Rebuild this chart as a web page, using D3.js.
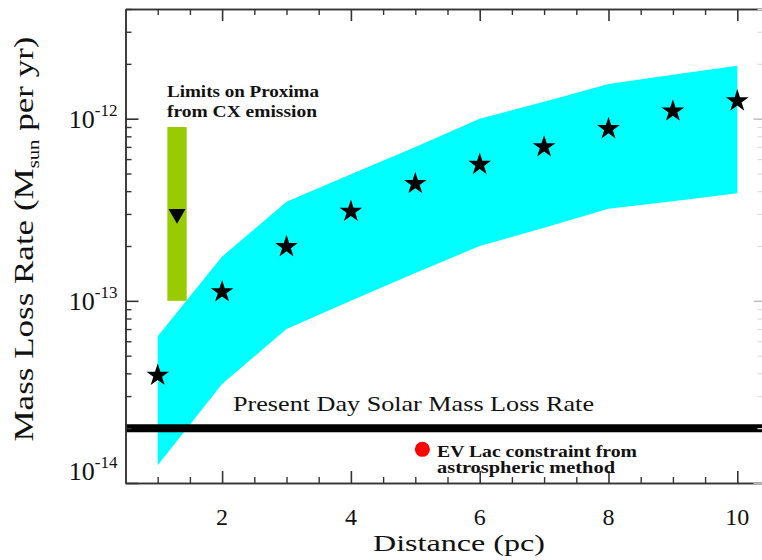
<!DOCTYPE html>
<html>
<head>
<meta charset="utf-8">
<script src="https://cdn.jsdelivr.net/npm/d3@7"></script>
<style>
  html, body { margin: 0; padding: 0; background: #fff; }
  svg { display: block; }
  text { font-family: "Liberation Serif", "DejaVu Serif", serif; fill: #111; }
</style>
</head>
<body>
<svg id="chart" width="762" height="560"></svg>
<script>
// ---- data ----
const distance   = [1, 2, 3, 4, 5, 6, 7, 8, 9, 10];
const modelRate  = [3.9e-14, 1.12e-13, 1.98e-13, 3.1e-13, 4.4e-13, 5.6e-13, 7.0e-13, 8.8e-13, 1.1e-12, 1.25e-12];
const rangeUpper = [6.4e-14, 1.75e-13, 3.5e-13, 4.95e-13, 7.0e-13, 1.0e-12, 1.24e-12, 1.55e-12, 1.74e-12, 1.95e-12];
const rangeLower = [1.25e-14, 3.5e-14, 7.0e-14, 1.0e-13, 1.42e-13, 2.0e-13, 2.52e-13, 3.2e-13, 3.52e-13, 3.9e-13];

const solarRate = 2.0e-14;
const proximaDistance = 1.30;
const proximaHalfWidth = 0.15;
const proximaLimits = [1.0e-13, 9.0e-13];
const proximaValue = 3.0e-13;
const evLacDistance = 5.11;
const evLacRate = 1.53e-14;

const xDomain = [0.5, 10.5];
const yDomain = [1e-14, 4e-12];
const xMajorTicks = [2, 4, 6, 8, 10];
const xMinorTicks = d3.range(1, 21).map(i => i * 0.5 + 0.5).filter(v => v < 10.5 && !xMajorTicks.includes(v));
const yMajorTicks = [1e-14, 1e-13, 1e-12];
const yTickExponents = ["-14", "-13", "-12"];
const yMinorTicks = [];
[-14, -13, -12].forEach(e => { for (let m = 2; m <= 9; m++) { const v = m * Math.pow(10, e); if (v <= 4e-12) yMinorTicks.push(v); } });

// ---- layout ----
const svg = d3.select("#chart");
const mLeft = 125.5, mRight = 769.5, mTop = 9, mBottom = 483;
const x = d3.scaleLinear().domain(xDomain).range([mLeft, mRight]);
const y = d3.scaleLog().domain(yDomain).range([mBottom, mTop]);

// model range band
const band = distance.map((d, i) => ({ d, lo: rangeLower[i], hi: rangeUpper[i] }));
svg.append("path")
  .datum(band)
  .attr("fill", "#00ffff")
  .attr("d", d3.area().x(p => x(p.d)).y0(p => y(p.lo)).y1(p => y(p.hi)));

// Proxima limits bar
svg.append("rect")
  .attr("x", x(proximaDistance - proximaHalfWidth))
  .attr("width", x(proximaDistance + proximaHalfWidth) - x(proximaDistance - proximaHalfWidth))
  .attr("y", y(proximaLimits[1]))
  .attr("height", y(proximaLimits[0]) - y(proximaLimits[1]))
  .attr("fill", "#99cc00");

svg.append("path")
  .attr("d", d3.symbol().type(d3.symbolTriangle).size(125)())
  .attr("transform", `translate(${x(proximaDistance)},${y(proximaValue)}) rotate(180)`)
  .attr("fill", "#000");

// stars
svg.append("g").selectAll("path")
  .data(distance)
  .join("path")
  .attr("d", d3.symbol().type(d3.symbolStar).size(160)())
  .attr("transform", (d, i) => `translate(${x(d)},${y(modelRate[i])})`)
  .attr("fill", "#000");

// solar line
svg.append("line")
  .attr("x1", x(xDomain[0])).attr("x2", x(xDomain[1]))
  .attr("y1", y(solarRate)).attr("y2", y(solarRate))
  .attr("stroke", "#000").attr("stroke-width", 8);

// EV Lac dot
svg.append("circle")
  .attr("cx", x(evLacDistance)).attr("cy", y(evLacRate)).attr("r", 7.5)
  .attr("fill", "#ff0000");

// ---- axes / frame ----
const axisColor = "#333";
function styleAxis(g, color, width, showDomain = true) {
  g.selectAll("path.domain").attr("stroke", showDomain ? color : "none").attr("stroke-width", width);
  g.selectAll(".tick line").attr("stroke", color).attr("stroke-width", width);
  g.selectAll(".tick text").remove();
}
// bottom
svg.append("g").attr("transform", `translate(0,${mBottom})`)
  .call(d3.axisBottom(x).tickValues(xMajorTicks).tickSize(-12).tickSizeOuter(0))
  .call(g => styleAxis(g, axisColor, 1.6));
svg.append("g").attr("transform", `translate(0,${mBottom})`)
  .call(d3.axisBottom(x).tickValues(xMinorTicks).tickSize(-6).tickSizeOuter(0))
  .call(g => styleAxis(g, axisColor, 1.4));
// top
svg.append("g").attr("transform", `translate(0,${mTop})`)
  .call(d3.axisTop(x).tickValues(xMajorTicks).tickSize(-12).tickSizeOuter(0))
  .call(g => styleAxis(g, axisColor, 1.6));
svg.append("g").attr("transform", `translate(0,${mTop})`)
  .call(d3.axisTop(x).tickValues(xMinorTicks).tickSize(-6).tickSizeOuter(0))
  .call(g => styleAxis(g, axisColor, 1.4));
// left
svg.append("g").attr("transform", `translate(${mLeft},0)`)
  .call(d3.axisLeft(y).tickValues(yMajorTicks).tickSize(-13).tickSizeOuter(0))
  .call(g => styleAxis(g, axisColor, 1.6));
svg.append("g").attr("transform", `translate(${mLeft},0)`)
  .call(d3.axisLeft(y).tickValues(yMinorTicks).tickSize(-6).tickSizeOuter(0))
  .call(g => styleAxis(g, axisColor, 1.4));
// right (frame off-canvas, faint ticks)
svg.append("g").attr("transform", `translate(${mRight - 3},0)`)
  .call(d3.axisRight(y).tickValues(yMajorTicks).tickSize(-13).tickSizeOuter(0))
  .call(g => styleAxis(g, "#bbb", 1.4, false));
svg.append("g").attr("transform", `translate(${mRight - 3},0)`)
  .call(d3.axisRight(y).tickValues(yMinorTicks).tickSize(-9).tickSizeOuter(0))
  .call(g => styleAxis(g, "#ddd", 1.2, false));

// x tick labels
svg.append("g").selectAll("text")
  .data(xMajorTicks)
  .join("text")
  .attr("x", d => x(d)).attr("y", 525)
  .attr("text-anchor", "middle")
  .attr("font-size", 24)
  .text(d => d);

// y tick labels (10^n)
yMajorTicks.forEach((v, i) => {
  const base = Math.min(y(v) + 9, mBottom - 3);
  const t = svg.append("text")
    .attr("x", mLeft - 8).attr("y", base)
    .attr("text-anchor", "end")
    .attr("font-size", 26);
  t.append("tspan").text("10");
  t.append("tspan").attr("font-size", 17).attr("dy", -12).text(yTickExponents[i]);
});

// axis titles
svg.append("text")
  .attr("x", 459).attr("y", 551)
  .attr("text-anchor", "middle")
  .attr("font-size", 24)
  .attr("textLength", 172).attr("lengthAdjust", "spacingAndGlyphs")
  .text("Distance (pc)");

const yt = svg.append("text")
  .attr("transform", "translate(33,239) rotate(-90)")
  .attr("text-anchor", "middle")
  .attr("font-size", 27)
  .attr("textLength", 405).attr("lengthAdjust", "spacingAndGlyphs");
yt.append("tspan").text("Mass Loss Rate (M");
yt.append("tspan").attr("font-size", 16).attr("dy", 6).text("sun");
yt.append("tspan").attr("dy", -6).text(" per yr)");

// annotations
function label(txt, xx, yy, size, len, weight) {
  svg.append("text").attr("x", xx).attr("y", yy)
    .attr("font-size", size)
    .attr("font-weight", weight || "normal")
    .attr("textLength", len).attr("lengthAdjust", "spacingAndGlyphs")
    .text(txt);
}
label("Limits on Proxima", 167, 97, 16, 152, "bold");
label("from CX emission", 167, 117, 16, 150, "bold");
label("Present Day Solar Mass Loss Rate", 233, 411, 21, 361);
label("EV Lac constraint from", 437, 457, 16, 200, "bold");
label("astrospheric method", 437, 473, 16, 178, "bold");
</script>
</body>
</html>
